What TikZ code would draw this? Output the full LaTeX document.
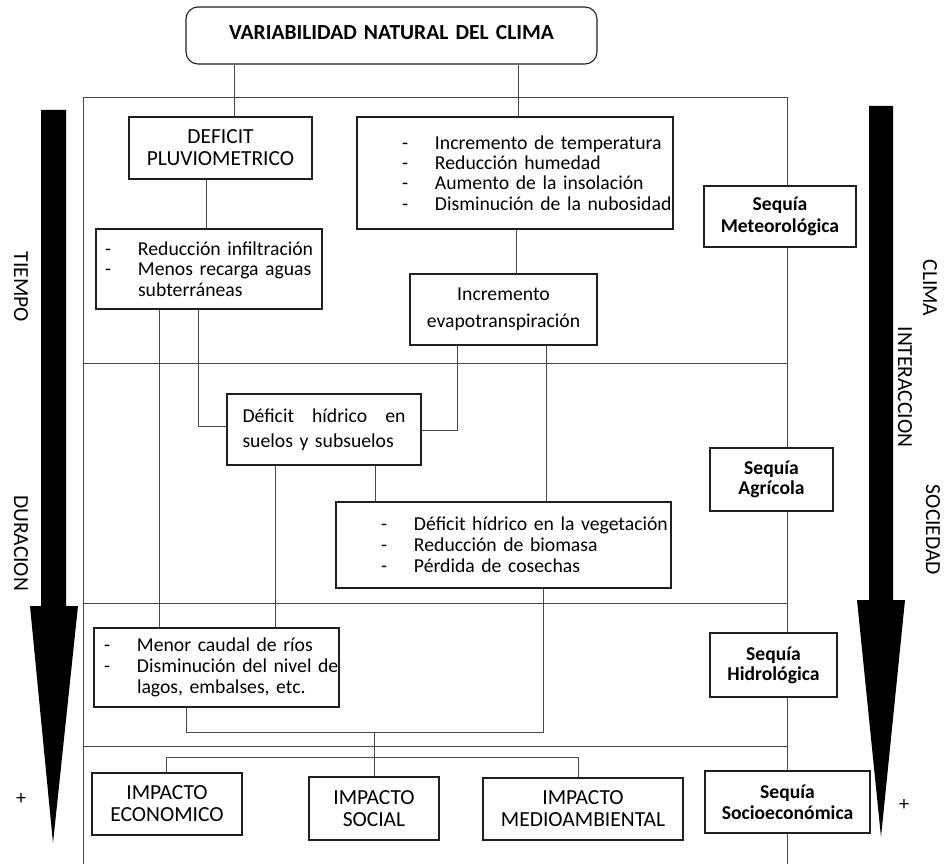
\documentclass[tikz,border=0pt]{standalone}
\usepackage{fontspec}
\setmainfont{Carlito}
\newcommand{\myfs}[2]{\fontsize{#1}{#2}\selectfont}
\newcommand{\li}[1]{\mbox{\makebox[33pt][l]{-}#1}}
\newcommand{\lc}[1]{\mbox{\hspace*{33pt}#1}}
\begin{document}
\begin{tikzpicture}[x=1pt,y=-1pt,
 box/.style={draw=black!88, line width=1.1pt, inner sep=0pt, align=left},
 cbox/.style={box, align=center},
 conn/.style={draw=black!72, line width=0.8pt},
 side/.style={rotate=-90, font=\myfs{21.5}{24}, inner sep=0pt},
 bigarrow/.style={fill=black}]
\useasboundingbox (0,0) rectangle (945,864);

% helper coordinates
\coordinate (xa) at (234,0);
\coordinate (xb) at (518,0);
\coordinate (xc) at (206,0);
\coordinate (xd) at (516,0);
\coordinate (xe) at (159,0);
\coordinate (xf) at (198,0);
\coordinate (xg) at (457,0);
\coordinate (xh) at (275,0);
\coordinate (xi) at (375,0);
\coordinate (xj) at (546,0);
\coordinate (xk) at (543,0);
\coordinate (xl) at (186,0);
\coordinate (xm) at (374,0);
\coordinate (xn) at (166,0);
\coordinate (xo) at (578,0);
\coordinate (xr) at (787,0);
\coordinate (yc) at (0,426);
\coordinate (yd) at (0,430);
\coordinate (yb) at (0,732);
\coordinate (yi) at (0,757);
\coordinate (fTL) at (83,97);
\coordinate (fTR) at (787,97);
\coordinate (fBL) at (83,864);
\coordinate (fBR) at (787,864);
\coordinate (s1L) at (83,363);
\coordinate (s1R) at (787,363);
\coordinate (s2L) at (83,603);
\coordinate (s2R) at (787,603);
\coordinate (s3L) at (83,746);
\coordinate (s3R) at (787,746);

% boxes
\node[cbox, rounded corners=12pt, minimum width=411pt, minimum height=57pt, text width=400pt, text depth=7pt, font=\myfs{21.5}{24}\bfseries] (top) at (391.5,35.5) {VARIABILIDAD NATURAL DEL CLIMA};

\node[cbox, minimum width=183pt, minimum height=62pt, text width=175pt, font=\myfs{21.5}{22}] (deficit) at (220.5,148) {DEFICIT\\PLUVIOMETRICO};

\node[box, minimum width=226pt, minimum height=80pt, text width=208pt, font=\myfs{19.7}{20.3}] (reduc) at (209,269) {\li{Reducción infiltración}\\\li{Menos recarga aguas}\\\lc{subterráneas}};

\node[box, minimum width=316pt, minimum height=112pt, text width=226pt, font=\myfs{19.7}{20.4}] (incr) at (515,173) {\li{Incremento de temperatura}\\\li{Reducción humedad}\\\li{Aumento de la insolación}\\\li{Disminución de la nubosidad}};

\node[cbox, minimum width=187pt, minimum height=71pt, text width=180pt, font=\myfs{19.7}{27}] (evap) at (503.5,309.5) {Incremento\\evapotranspiración};

\node[cbox, minimum width=152pt, minimum height=61pt, text width=145pt, font=\myfs{19.6}{22}\bfseries] (met) at (780,216.5) {Sequía\\Meteorológica};

\node[box, minimum width=194pt, minimum height=71pt, text width=163pt, font=\myfs{19.7}{25}] (suelos) at (324,429.5) {\hbox to 163pt{Déficit\hfill hídrico\hfill en}\\suelos y subsuelos};

\node[box, minimum width=335pt, minimum height=86pt, text width=245pt, font=\myfs{19.7}{21}] (veg) at (503.5,545) {\li{Déficit hídrico en la vegetación}\\\li{Reducción de biomasa}\\\li{Pérdida de cosechas}};

\node[box, minimum width=245pt, minimum height=79pt, text width=225pt, font=\myfs{19.7}{21}] (menor) at (216.5,667.5) {\li{Menor caudal de ríos}\\\li{Disminución del nivel de}\\\lc{lagos, embalses, etc.}};

\node[cbox, minimum width=123pt, minimum height=63pt, text width=118pt, font=\myfs{19.6}{19.5}\bfseries] (agr) at (771.5,479.5) {Sequía\\Agrícola};
\node[cbox, minimum width=127pt, minimum height=64pt, text width=120pt, font=\myfs{19.6}{20}\bfseries] (hid) at (773.5,665) {Sequía\\Hidrológica};
\node[cbox, minimum width=165pt, minimum height=62pt, text width=158pt, font=\myfs{19.6}{21}\bfseries] (soc) at (787.5,802) {Sequía\\Socioeconómica};

\node[cbox, minimum width=150pt, minimum height=62pt, text width=145pt, font=\myfs{21.5}{22}] (ieco) at (167,804) {IMPACTO\\ECONOMICO};
\node[cbox, minimum width=130pt, minimum height=63pt, text width=125pt, font=\myfs{21.5}{22}] (isoc) at (374,808.5) {IMPACTO\\SOCIAL};
\node[cbox, minimum width=200pt, minimum height=62pt, text width=195pt, font=\myfs{21.5}{22}] (imed) at (583,809) {IMPACTO\\MEDIOAMBIENTAL};

% frame and separators
\draw[conn] (fBL) -- (fTL) -- (fTR) -- (met.north -| xr);
\draw[conn] (met.south -| xr) -- (agr.north -| xr);
\draw[conn] (agr.south -| xr) -- (hid.north -| xr);
\draw[conn] (hid.south -| xr) -- (soc.north -| xr);
\draw[conn] (soc.south -| xr) -- (fBR);
\draw[conn] (s1L) -- (s1R);
\draw[conn] (s2L) -- (s2R);
\draw[conn] (s3L) -- (s3R);

% connectors
\draw[conn] (top.south -| xa) -- (deficit.north -| xa);
\draw[conn] (top.south -| xb) -- (incr.north -| xb);
\draw[conn] (deficit.south -| xc) -- (reduc.north -| xc);
\draw[conn] (incr.south -| xd) -- (evap.north -| xd);
\draw[conn] (reduc.south -| xe) -- (menor.north -| xe);
\draw[conn] (reduc.south -| xf) -- (xf |- yc) -- (suelos.west |- yc);
\draw[conn] (evap.south -| xg) -- (xg |- yd) -- (suelos.east |- yd);
\draw[conn] (suelos.south -| xh) -- (menor.north -| xh);
\draw[conn] (suelos.south -| xi) -- (veg.north -| xi);
\draw[conn] (evap.south -| xj) -- (veg.north -| xj);
\draw[conn] (veg.south -| xk) -- (xk |- yb) -- (xl |- yb) -- (menor.south -| xl);
\draw[conn] (xm |- yb) -- (isoc.north -| xm);
\draw[conn] (ieco.north -| xn) -- (xn |- yi) -- (xo |- yi) -- (imed.north -| xo);

% big arrows
\fill[bigarrow] (41,110) -- (66,110) -- (66,606) -- (78,606) -- (53,843) -- (30,606) -- (41,606) -- cycle;
\fill[bigarrow] (869,106) -- (893,106) -- (893,600) -- (905,600) -- (881,837) -- (857,600) -- (869,600) -- cycle;

% side labels
\node[side] (tiempo) at (21,287) {TIEMPO};
\node[side] (duracion) at (21,543) {DURACION};
\node[side] (clima) at (930,288) {CLIMA};
\node[side] (interaccion) at (905,387) {INTERACCION};
\node[side] (sociedad) at (933,530) {SOCIEDAD};
\node[font=\myfs{20}{20}, inner sep=0pt] (plusL) at (21,799) {+};
\node[font=\myfs{20}{20}, inner sep=0pt] (plusR) at (904,805) {+};
\end{tikzpicture}
\end{document}
